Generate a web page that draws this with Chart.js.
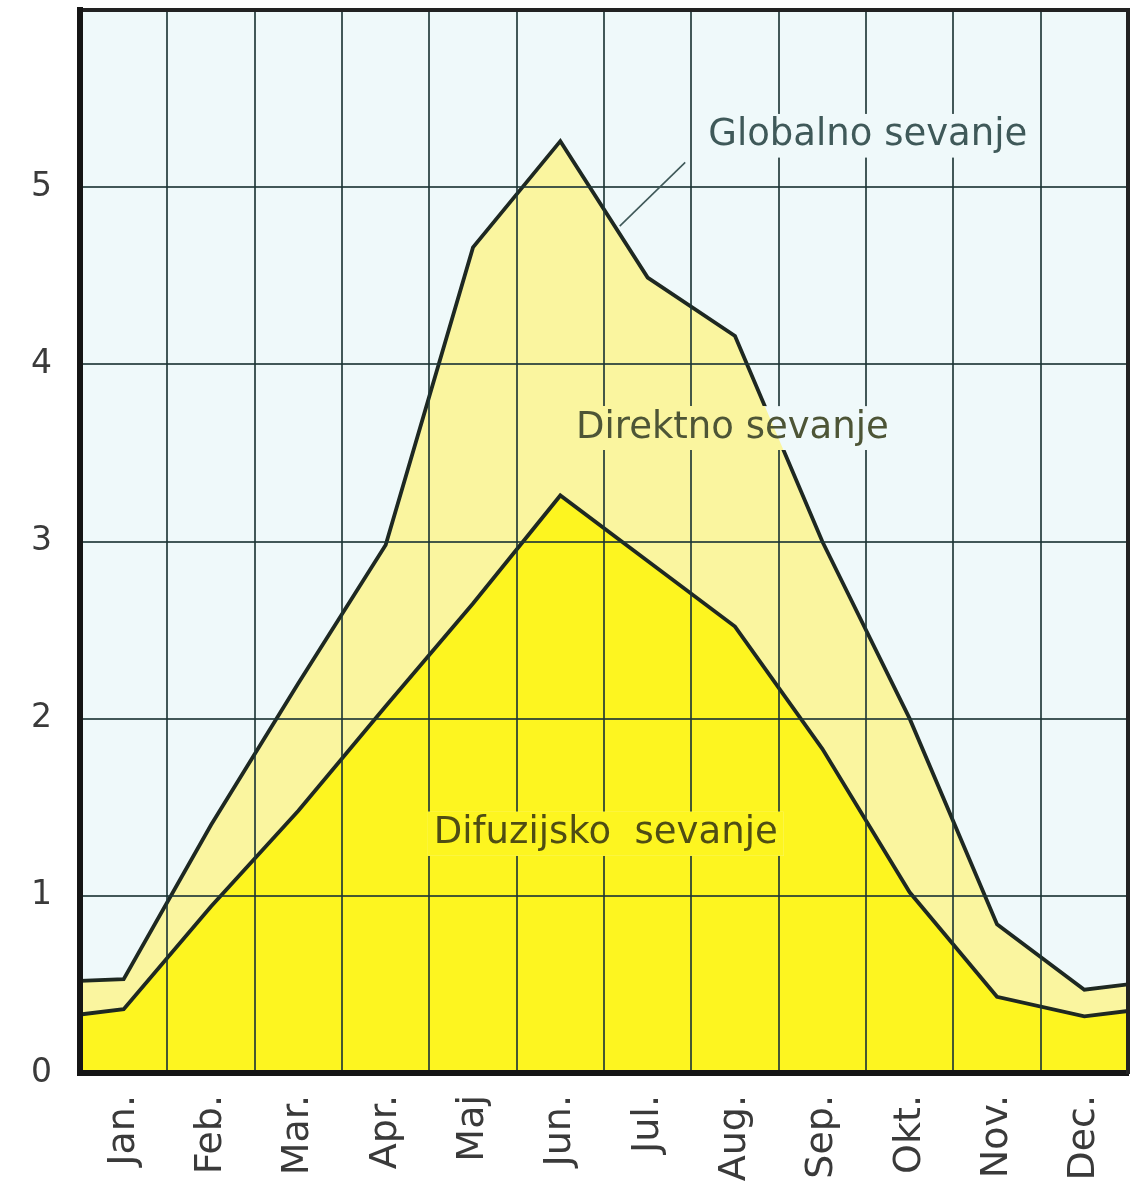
<!DOCTYPE html>
<html>
<head>
<meta charset="utf-8">
<script src="https://cdn.jsdelivr.net/npm/chart.js@4.4.1/dist/chart.umd.min.js"></script>
<style>
  html, body { margin: 0; padding: 0; background: #ffffff; }
  #wrap { width: 1140px; height: 1196px; position: relative; }
</style>
</head>
<body>
<div id="wrap"><canvas id="sevanje-chart"></canvas></div>
<script>
// SEVANJE PO MESECIH

const months = ["Jan.", "Feb.", "Mar.", "Apr.", "Maj", "Jun.", "Jul.", "Aug.", "Sep.", "Okt.", "Nov.", "Dec."];
const globalValues = [0.53, 1.40, 2.20, 2.98, 4.66, 5.26, 4.49, 4.16, 3.00, 2.00, 0.84, 0.47];
const diffuseValues = [0.36, 0.94, 1.48, 2.07, 2.65, 3.26, 2.89, 2.52, 1.83, 1.02, 0.43, 0.32];
// values where the curves meet the left and right frame
const globalEdges = [0.52, 0.50];
const diffuseEdges = [0.33, 0.35];
const yTicks = [0, 1, 2, 3, 4, 5];
const yMax = 6;

const annotations = [
  { text: "Globalno sevanje", x: 9.02, y: 5.29, color: "#3f5959" },
  { text: "Direktno sevanje", x: 7.47, y: 3.64, color: "#4d5536" },
  { text: "Difuzijsko  sevanje", x: 6.02, y: 1.35, color: "#4f4d14" },
];
const leader = { from: [6.93, 5.14], to: [6.18, 4.78] };

const PLOT_BG = "#eff9fa";
const LIGHT_YELLOW = "#faf59f";
const BRIGHT_YELLOW = "#fdf520";
const LINE_COLOR = "#1e2822";
const GRID_COLOR = "rgba(28, 52, 52, 0.82)";
const FONT = '"DejaVu Sans", Verdana, sans-serif';

function toPoints(values, edges) {
  const pts = values.map((v, i) => ({ x: i + 0.5, y: v }));
  return [{ x: 0, y: edges[0] }, ...pts, { x: months.length, y: edges[1] }];
}

// repaint the fills inside a box so the label sits on a clean patch
function knockout(chart, box) {
  const ctx = chart.ctx;
  const a = chart.chartArea;
  ctx.save();
  ctx.beginPath();
  ctx.rect(box[0], box[1], box[2], box[3]);
  ctx.clip();
  ctx.fillStyle = PLOT_BG;
  ctx.fillRect(box[0], box[1], box[2], box[3]);
  [[1, LIGHT_YELLOW], [0, BRIGHT_YELLOW]].forEach(([idx, color]) => {
    const pts = chart.getDatasetMeta(idx).data;
    ctx.beginPath();
    pts.forEach((p, i) => (i ? ctx.lineTo(p.x, p.y) : ctx.moveTo(p.x, p.y)));
    ctx.lineTo(a.right, a.bottom);
    ctx.lineTo(a.left, a.bottom);
    ctx.closePath();
    ctx.fillStyle = color;
    ctx.fill();
  });
  ctx.restore();
}

const sevanjePlugin = {
  id: "sevanje",
  beforeDraw(chart) {
    const a = chart.chartArea;
    const ctx = chart.ctx;
    ctx.save();
    ctx.fillStyle = PLOT_BG;
    ctx.fillRect(a.left, a.top, a.right - a.left, a.bottom - a.top);
    ctx.restore();
  },
  afterDraw(chart) {
    const ctx = chart.ctx;
    const xs = chart.scales.x;
    const ys = chart.scales.y;
    ctx.save();
    ctx.font = "37px " + FONT;
    annotations.forEach((l) => {
      const w = ctx.measureText(l.text).width;
      const cx = xs.getPixelForValue(l.x);
      const cy = ys.getPixelForValue(l.y);
      knockout(chart, [cx - w / 2 - 6, cy - 22, w + 12, 44]);
      ctx.fillStyle = l.color;
      ctx.textAlign = "center";
      ctx.textBaseline = "middle";
      ctx.fillText(l.text, cx, cy);
    });
    ctx.strokeStyle = "#3f5959";
    ctx.lineWidth = 1.6;
    ctx.beginPath();
    ctx.moveTo(xs.getPixelForValue(leader.from[0]), ys.getPixelForValue(leader.from[1]));
    ctx.lineTo(xs.getPixelForValue(leader.to[0]), ys.getPixelForValue(leader.to[1]));
    ctx.stroke();
    ctx.restore();
  },
};

const cfg = {
  type: "line",
  data: {
    datasets: [
      {
        label: "Difuzijsko sevanje",
        data: toPoints(diffuseValues, diffuseEdges),
        borderColor: LINE_COLOR,
        backgroundColor: BRIGHT_YELLOW,
        borderWidth: 3.8,
        fill: "origin",
        pointRadius: 0,
        tension: 0,
      },
      {
        label: "Globalno sevanje",
        data: toPoints(globalValues, globalEdges),
        borderColor: LINE_COLOR,
        backgroundColor: LIGHT_YELLOW,
        borderWidth: 3.8,
        fill: "-1",
        pointRadius: 0,
        tension: 0,
      },
    ],
  },
  options: {
    responsive: true,
    maintainAspectRatio: false,
    animation: false,
    layout: { padding: 0 },
    plugins: {
      legend: { display: false },
      tooltip: { enabled: false },
    },
    scales: {
      x: {
        type: "linear",
        position: "bottom",
        min: 0,
        max: months.length,
        afterBuildTicks: (s) => {
          s.ticks = months.map((m, i) => ({ value: i + 0.5 }));
        },
        afterFit: (s) => {
          s.height = 123;
          s.paddingLeft = 0;
          s.paddingRight = 0;
        },
        grid: { offset: true, color: GRID_COLOR, lineWidth: 2, drawTicks: false, z: 1 },
        border: { color: "#151515", width: 6, z: 2 },
        ticks: {
          autoSkip: false,
          minRotation: 90,
          maxRotation: 90,
          padding: 22,
          color: "#3a3a3a",
          font: { family: FONT, size: 38 },
          callback: (v, i) => months[i],
        },
      },
      xTop: {
        type: "linear",
        position: "top",
        min: 0,
        max: months.length,
        afterFit: (s) => {
          s.height = 10;
          s.paddingLeft = 0;
          s.paddingRight = 0;
        },
        grid: { display: false, drawTicks: false },
        border: { color: "#222222", width: 4, z: 2 },
        ticks: { display: false },
      },
      y: {
        type: "linear",
        position: "left",
        min: 0,
        max: yMax,
        afterBuildTicks: (s) => {
          s.ticks = yTicks.map((v) => ({ value: v }));
        },
        afterFit: (s) => {
          s.width = 80;
          s.paddingTop = 0;
          s.paddingBottom = 0;
        },
        grid: { color: GRID_COLOR, lineWidth: 2, drawTicks: false, z: 1 },
        border: { color: "#151515", width: 6, z: 2 },
        ticks: {
          padding: 28,
          color: "#3a3a3a",
          font: { family: FONT, size: 33 },
        },
      },
      yRight: {
        type: "linear",
        position: "right",
        min: 0,
        max: yMax,
        afterFit: (s) => {
          s.width = 12;
          s.paddingTop = 0;
          s.paddingBottom = 0;
        },
        grid: { display: false, drawTicks: false },
        border: { color: "#222222", width: 4, z: 2 },
        ticks: { display: false },
      },
    },
  },
  plugins: [sevanjePlugin],
};

document.addEventListener("DOMContentLoaded", () => {
  const canvas = document.getElementById("sevanje-chart");
  new Chart(canvas, cfg);
});
</script>
</body>
</html>
